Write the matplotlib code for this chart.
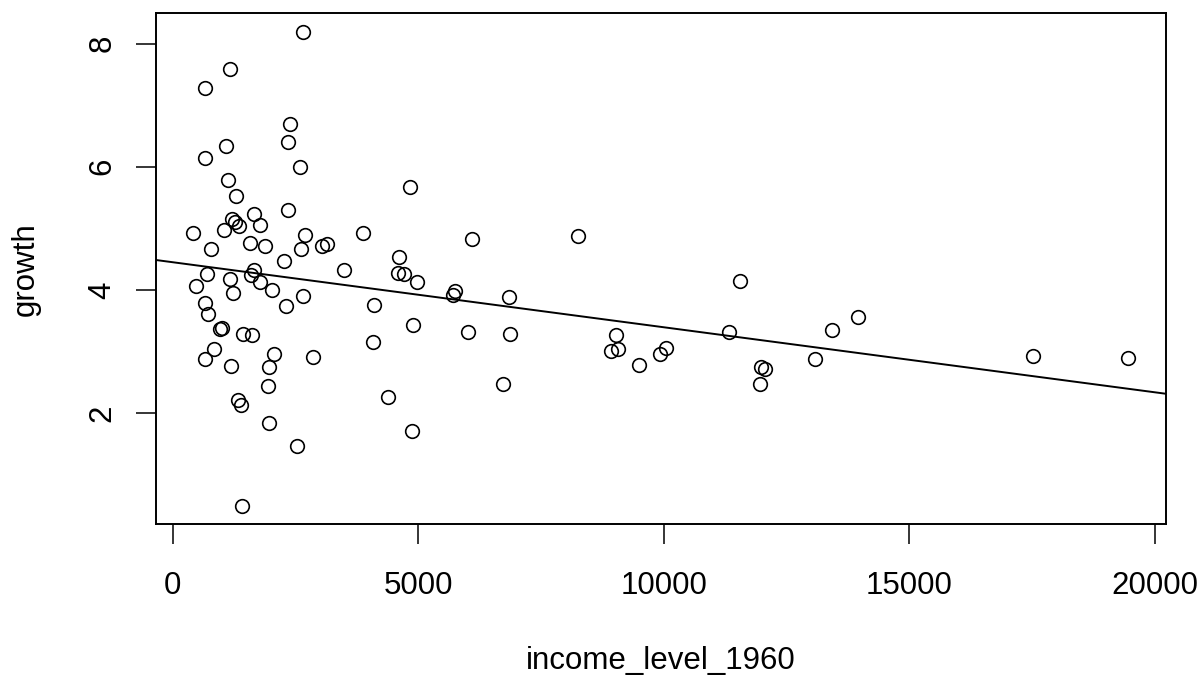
import matplotlib
matplotlib.use("Agg")
import matplotlib.pyplot as plt
import numpy as np

# income level in 1960 and growth
income_level_1960 = [
    2650, 1175, 666, 2391, 2356, 1081, 654, 2601, 1134, 1291,
    2344, 1658, 1204, 1271, 1352, 1786, 422, 1041, 2690, 1576,
    1882, 776, 2609, 3037, 3138, 2263, 3491, 707, 1175, 1658,
    1597, 1786, 477, 1230, 2031, 2650, 2303, 666, 721, 965,
    1012, 1428, 1617, 843, 2059, 660, 1183, 1957, 2859, 1949,
    1326, 1387, 1957, 2540, 1413,
    4835, 3872, 6098, 8257, 4617, 4597, 4719, 4971, 5752, 5705,
    6845, 4102, 4890, 4088, 6010, 6872, 6735, 4387, 4876,
    11556, 11332, 9031, 8929, 9065, 10049, 9927, 9499, 13424, 13959,
    13090, 11984, 12065, 11963, 17517, 19464,
]
growth = [
    8.18, 7.59, 7.28, 6.69, 6.40, 6.33, 6.14, 5.99, 5.79, 5.52,
    5.30, 5.23, 5.16, 5.10, 5.04, 5.05, 4.93, 4.97, 4.90, 4.76,
    4.72, 4.66, 4.66, 4.72, 4.74, 4.47, 4.33, 4.26, 4.18, 4.32,
    4.24, 4.13, 4.06, 3.96, 4.00, 3.91, 3.74, 3.79, 3.61, 3.37,
    3.38, 3.28, 3.27, 3.05, 2.97, 2.88, 2.77, 2.76, 2.91, 2.45,
    2.22, 2.13, 1.84, 1.47, 0.50,
    5.67, 4.92, 4.83, 4.88, 4.53, 4.28, 4.26, 4.13, 3.98, 3.92,
    3.89, 3.76, 3.44, 3.16, 3.32, 3.29, 2.48, 2.26, 1.71,
    4.15, 3.32, 3.27, 3.01, 3.04, 3.06, 2.96, 2.79, 3.36, 3.56,
    2.88, 2.76, 2.72, 2.48, 2.93, 2.89,
]
x_ticks = [0, 5000, 10000, 15000, 20000]
y_ticks = [2, 4, 6, 8]

plt.rcParams['font.family'] = ['Liberation Sans', 'DejaVu Sans']

x = np.array(income_level_1960, dtype=float)
y = np.array(growth, dtype=float)

fig = plt.figure(figsize=(12.03, 6.75), dpi=100)
ax = fig.add_axes([0.1294, 0.2237, 0.8399, 0.7566])

ax.plot(x, y, linestyle='none', marker='o', markersize=9.8,
        markerfacecolor='none', markeredgecolor='black', markeredgewidth=1.2)

# least squares line, like abline(lm(...)) in R
slope, intercept = np.polyfit(x, y, 1)
xlim = (-344, 20234)
xx = np.array(xlim)
ax.plot(xx, intercept + slope * xx, color='black', linewidth=1.4)

ax.set_xlim(xlim)
ax.set_ylim(0.205, 8.49)
ax.set_xticks(x_ticks)
ax.set_xticklabels([str(t) for t in x_ticks])
ax.set_yticks(y_ticks)
ax.set_yticklabels([str(t) for t in y_ticks], rotation=90, va='center')

for s in ax.spines.values():
    s.set_linewidth(1.4)
ax.tick_params(axis='both', length=14.4, width=1.1, labelsize=22.5)
ax.tick_params(axis='x', pad=19.5)
ax.tick_params(axis='y', pad=13)

ax.set_xlabel('income_level_1960', fontsize=22.5, labelpad=32)
ax.set_ylabel('growth', fontsize=22.5, labelpad=34)

fig.savefig('out.png', dpi=100)
